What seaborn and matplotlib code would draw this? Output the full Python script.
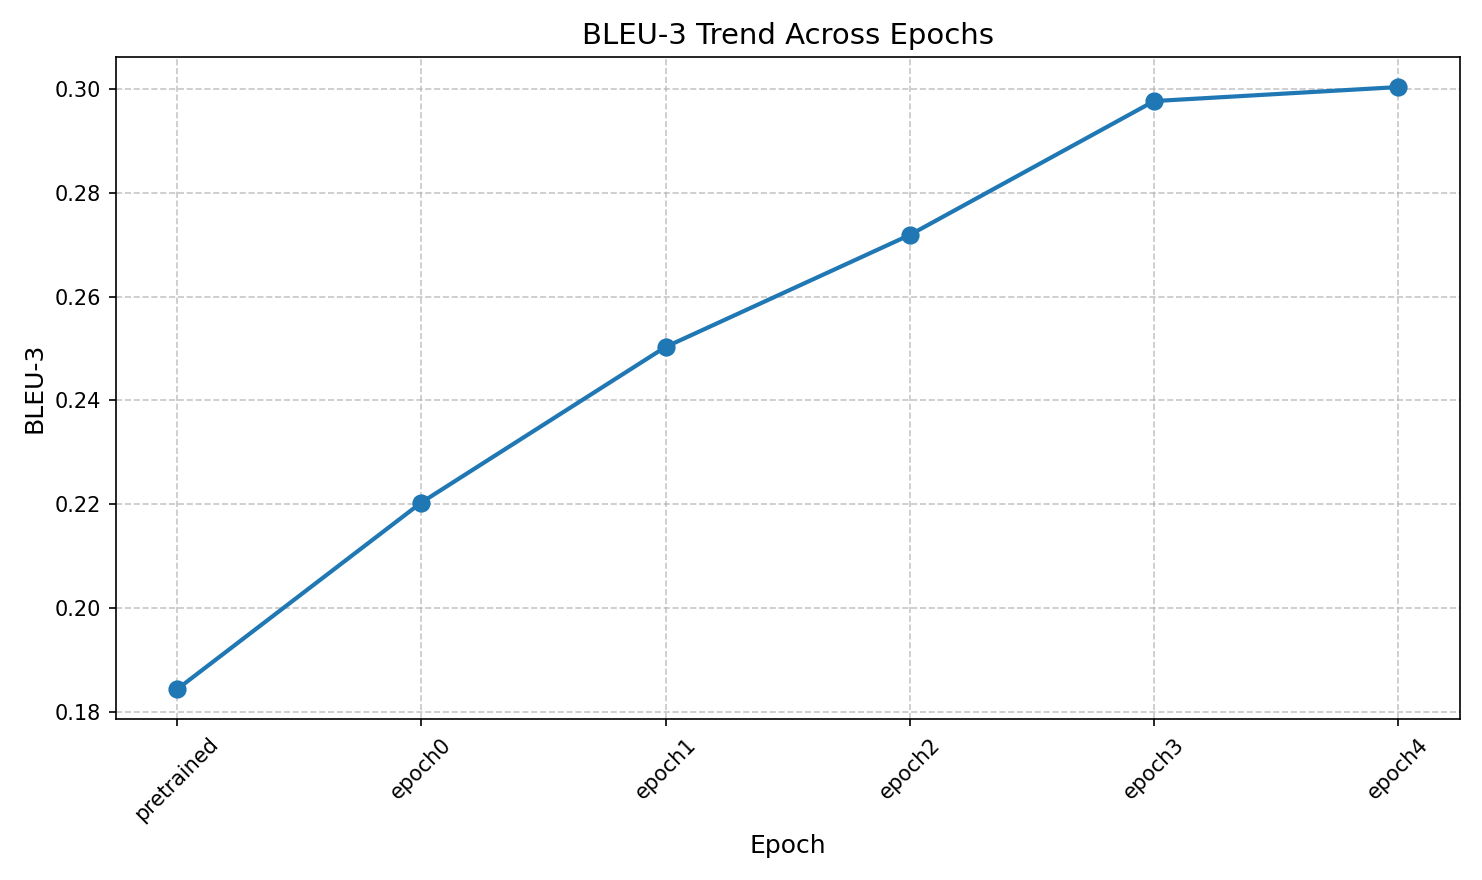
import matplotlib
matplotlib.use("Agg")
import matplotlib.pyplot as plt
import seaborn as sns
import pandas as pd

epochs = ["pretrained", "epoch0", "epoch1", "epoch2", "epoch3", "epoch4"]
bleu3 = [0.1843, 0.2203, 0.2503, 0.2719, 0.2977, 0.3004]

df = pd.DataFrame({"Epoch": epochs, "BLEU-3": bleu3})

fig, ax = plt.subplots(figsize=(9.88, 5.867), dpi=150)
sns.lineplot(data=df, x="Epoch", y="BLEU-3", marker="o", markersize=8,
             linewidth=2, color="#1f77b4", markeredgecolor="#1f77b4", ax=ax, sort=False)
ax.set_title("BLEU-3 Trend Across Epochs", fontsize=14)
ax.set_xlabel("Epoch", fontsize=12)
ax.set_ylabel("BLEU-3", fontsize=12)
ax.grid(True, linestyle="--", alpha=0.7)
plt.xticks(rotation=45)
plt.tight_layout()
plt.savefig("out.png")
